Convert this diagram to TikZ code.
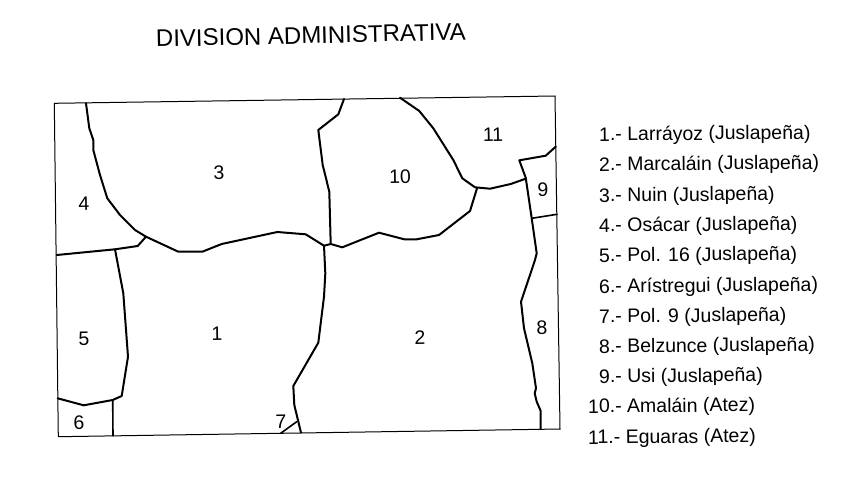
\documentclass[tikz,border=0pt]{standalone}
\usepackage{fontspec}
\setmainfont{Liberation Sans}
\tikzset{
  frame/.style={draw=black,line width=1pt},
  limit/.style={draw=black,line width=2pt,line join=round,line cap=round},
  thinlimit/.style={draw=black,line width=1.6pt,line join=round,line cap=round},
  num/.style={inner sep=0pt,font=\fontsize{19.5}{22}\selectfont,rotate=1},
  item/.style={inner sep=0pt,anchor=base west,font=\fontsize{19.5}{22}\selectfont,rotate=0.55},
  heading/.style={inner sep=0pt,anchor=base west,font=\fontsize{24}{28}\selectfont,rotate=1.3}
}
\begin{document}
\begin{tikzpicture}[x=1pt,y=-1pt]
\useasboundingbox (0,0) rectangle (850,477);
\node[heading] (title) at (156,47) {DIVISION ADMINISTRATIVA};
\draw[frame] (54.3,103.3) -- (555,96) -- (560,429) -- (58.3,436.7) -- cycle;
\draw[limit] (86,103.3) -- (89.3,128.3) -- (93.3,140) -- (93.3,150) -- (100,175) -- (107.3,198.3) -- (120,215) -- (135,230) -- (146,236.7) -- (178.3,251.7) -- (202.3,251.7) -- (221.7,244) -- (277.3,232) -- (305.7,234.3) -- (324,245.7) -- (330.7,244) -- (342.3,247.3) -- (379,232.7) -- (404.3,239.3) -- (416.7,239.3) -- (439,235) -- (470,211) -- (477,188.3);
\draw[limit] (344,99) -- (338.3,114.3) -- (318.3,130) -- (322.7,165) -- (329.3,191.7) -- (330.7,244);
\draw[limit] (400,97.7) -- (419.3,111) -- (433.3,128.3) -- (453.3,160) -- (462.3,178.3) -- (475,187.3) -- (490,188.7) -- (510.7,184) -- (525.7,178.7);
\draw[limit] (555.7,146.7) -- (545.7,155.7) -- (519.3,160.3) -- (525.7,177.7) -- (531.7,218.3) -- (536.7,253.3) -- (535,260) -- (521,301.7) -- (524,328.3) -- (532.3,363.3) -- (536,388.3) -- (534.7,393.3) -- (536.7,401.7) -- (540.7,411) -- (540.7,429);
\draw[thinlimit] (531.7,218.3) -- (557,214.3);
\draw[limit] (324,245.7) -- (325.3,273.3) -- (324,296.7) -- (318.3,342.7) -- (293.3,386) -- (294.3,405) -- (301,432.7);
\draw[thinlimit] (280.7,433.3) -- (296.7,421.7);
\draw[limit] (56.7,255) -- (115,249.3) -- (137.7,246) -- (146,236.7);
\draw[limit] (115,249.3) -- (123.3,293.3) -- (128,356.7) -- (121.7,396) -- (112.7,400) -- (83.7,405.3) -- (57.7,398.3);
\draw[thinlimit] (112.7,400) -- (113,435.7);
\node[num] (n1) at (217,334) {1};
\node[num] (n2) at (420,337.5) {2};
\node[num] (n3) at (219,173) {3};
\node[num] (n4) at (84,204) {4};
\node[num] (n5) at (84,338.5) {5};
\node[num] (n6) at (79,422.5) {6};
\node[num] (n7) at (281,422) {7};
\node[num] (n8) at (542,327.5) {8};
\node[num] (n9) at (543,189.5) {9};
\node[num] (n10) at (400,176.5) {10};
\node[num] (n11) at (493,135) {11};
\node[item] (l1) at (599,141) {1.- Larráyoz (Juslapeña)};
\node[item] (l2) at (599,171) {2.- Marcaláin (Juslapeña)};
\node[item] (l3) at (599,202) {3.- Nuin (Juslapeña)};
\node[item] (l4) at (599,232) {4.- Osácar (Juslapeña)};
\node[item] (l5) at (599,262) {5.- Pol. 16 (Juslapeña)};
\node[item] (l6) at (599,293) {6.- Arístregui (Juslapeña)};
\node[item] (l7) at (599,323) {7.- Pol. 9 (Juslapeña)};
\node[item] (l8) at (599,353) {8.- Belzunce (Juslapeña)};
\node[item] (l9) at (599,383) {9.- Usi (Juslapeña)};
\node[item] (l10) at (588,413) {10.- Amaláin (Atez)};
\node[item] (l11) at (588,444) {11.- Eguaras (Atez)};
\end{tikzpicture}
\end{document}
